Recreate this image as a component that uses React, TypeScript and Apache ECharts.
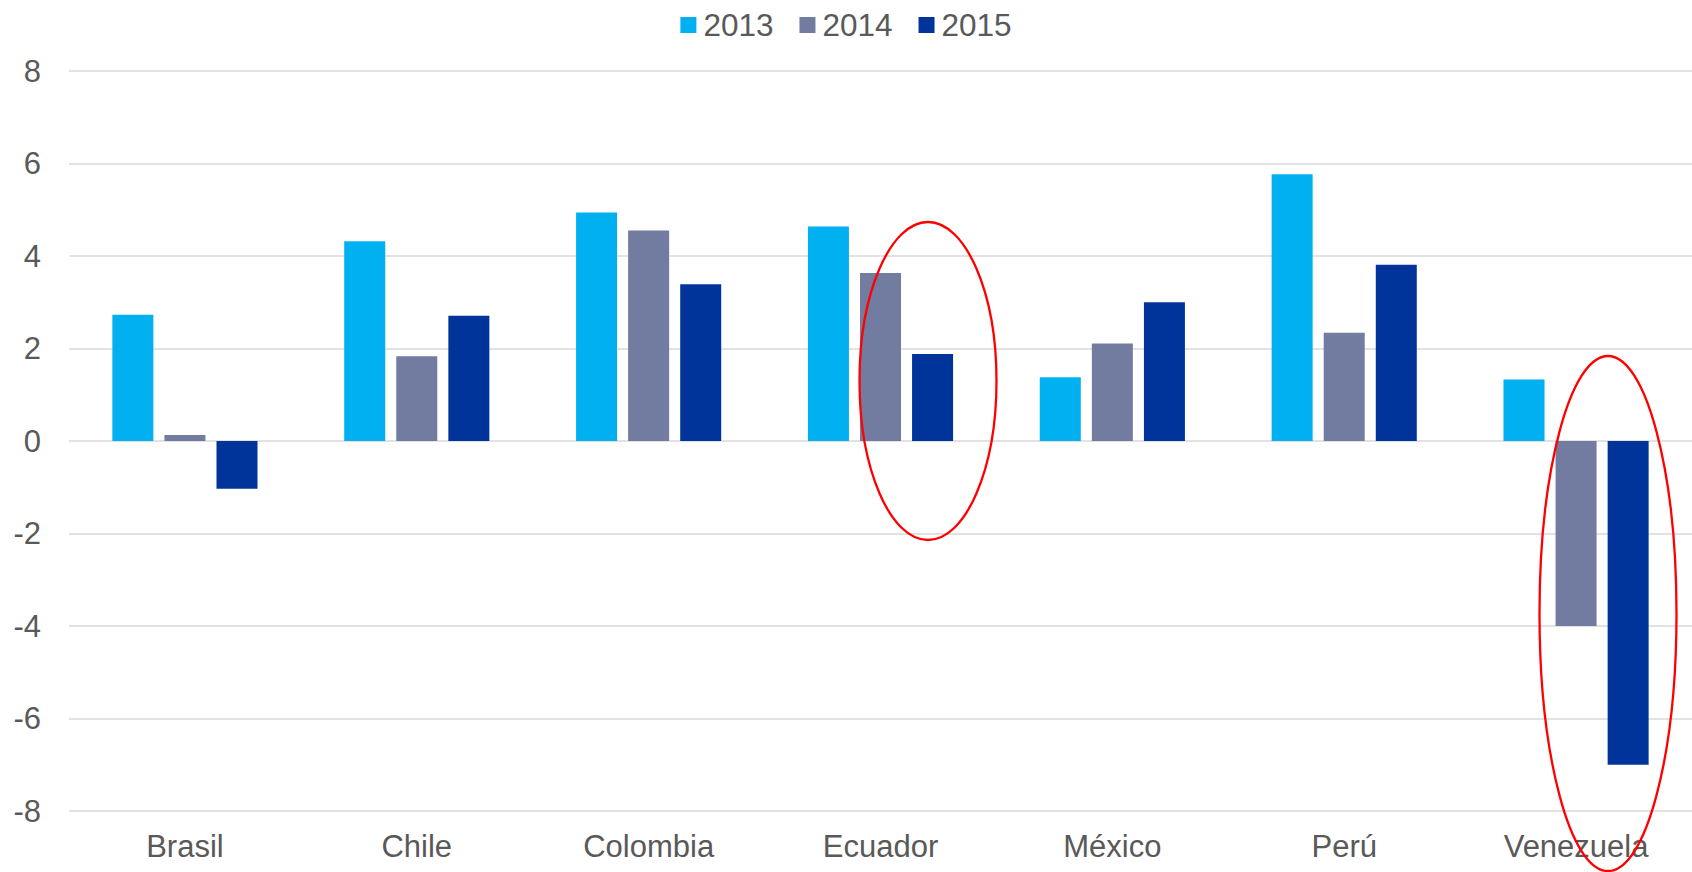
import React, { useEffect, useRef } from "react";
import * as echarts from "echarts";

const categories = ["Brasil", "Chile", "Colombia", "Ecuador", "México", "Perú", "Venezuela"];
const seriesNames = ["2013", "2014", "2015"];
const values2013 = [2.73, 4.32, 4.94, 4.64, 1.38, 5.77, 1.33];
const values2014 = [0.13, 1.83, 4.55, 3.63, 2.11, 2.34, -4.0];
const values2015 = [-1.03, 2.71, 3.39, 1.88, 3.0, 3.81, -7.0];
const colors = ["#00B0F0", "#727BA0", "#00349A"];

const FONT = "'Liberation Sans', Arial, sans-serif";
const TEXT = "#595959";

export default function App() {
  const ref = useRef<HTMLDivElement>(null);
  useEffect(() => {
    if (!ref.current) return;
    const chart = echarts.init(ref.current, undefined, { renderer: "svg" });
    const data = [values2013, values2014, values2015];
    chart.setOption({
      animation: false,
      backgroundColor: "#ffffff",
      textStyle: { fontFamily: FONT, color: TEXT },
      legend: {
        top: 4,
        left: "center",
        itemWidth: 16,
        itemHeight: 16,
        itemGap: 26,
        icon: "rect",
        data: seriesNames,
        textStyle: { fontFamily: FONT, fontSize: 31.5, color: TEXT, padding: [0, 0, 0, 2] },
      },
      grid: { left: 69, width: 1625, top: 71, height: 740, containLabel: false },
      xAxis: {
        type: "category",
        data: categories,
        axisLine: { show: false },
        axisTick: { show: false },
        axisLabel: { fontFamily: FONT, fontSize: 31, color: TEXT, margin: 20 },
      },
      yAxis: {
        type: "value",
        min: -8,
        max: 8,
        interval: 2,
        axisLine: { show: false },
        axisTick: { show: false },
        axisLabel: { fontFamily: FONT, fontSize: 31, color: TEXT, margin: 28 },
        splitLine: { lineStyle: { color: "#D9D9D9", width: 1.5 } },
      },
      series: seriesNames.map((name, i) => ({
        name,
        type: "bar",
        data: data[i],
        barWidth: 41,
        barGap: "27%",
        itemStyle: { color: colors[i] },
      })),
      graphic: [
        {
          type: "ellipse",
          shape: { cx: 928, cy: 381, rx: 68.5, ry: 159 },
          style: { fill: "none", stroke: "#FF0000", lineWidth: 2.3 },
          z: 100,
        },
        {
          type: "ellipse",
          shape: { cx: 1608, cy: 613.5, rx: 68.5, ry: 257.5 },
          style: { fill: "none", stroke: "#FF0000", lineWidth: 2.3 },
          z: 100,
        },
      ],
    });
    return () => chart.dispose();
  }, []);
  return (
    <div
      ref={ref}
      style={{ position: "fixed", left: 0, top: 0, width: 1692, height: 872 }}
    />
  );
}
